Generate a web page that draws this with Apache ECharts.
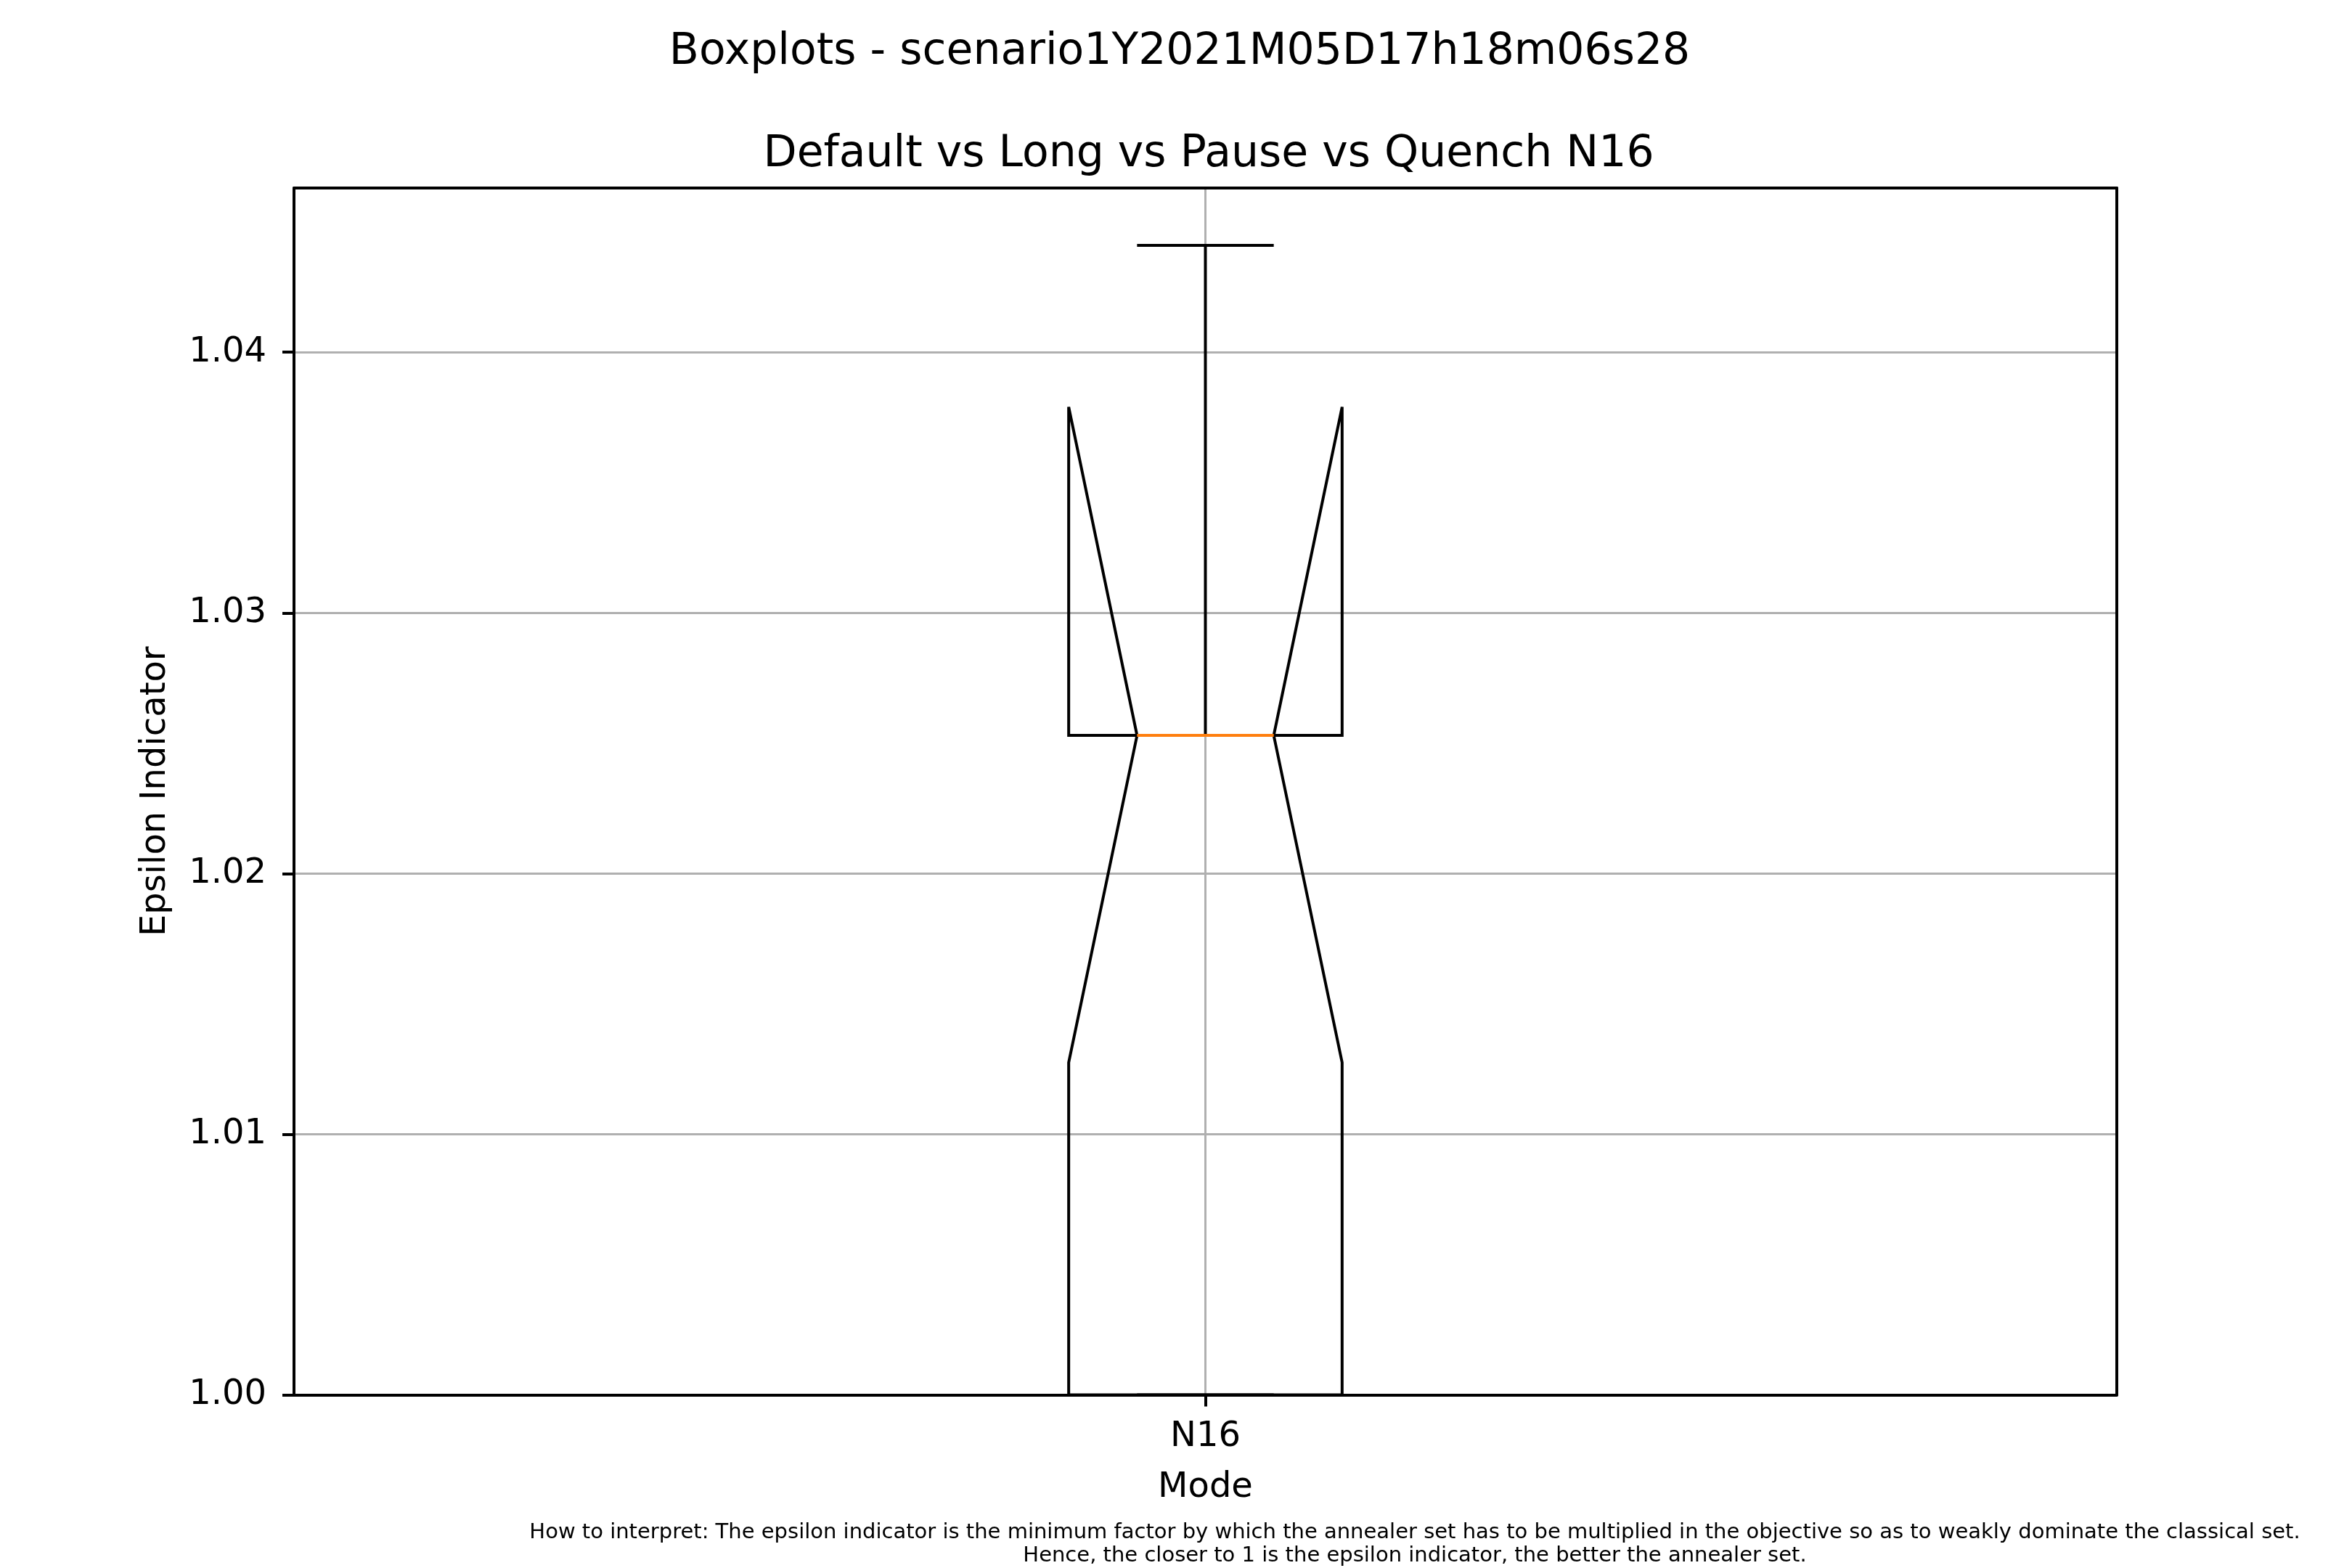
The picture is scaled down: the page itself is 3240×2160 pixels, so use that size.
<!DOCTYPE html>
<html>
<head>
<meta charset="utf-8">
<script src="https://cdn.jsdelivr.net/npm/echarts@6/dist/echarts.min.js"></script>
<style>
html,body{margin:0;padding:0;background:#fff;}
#chart{width:3240px;height:2160px;}
</style>
</head>
<body>
<div id="chart"></div>
<script>
// ---- data ----
const categories = ['N16'];
const whiskerLow  = [1.0];
const q1Values    = [1.0];
const medians     = [1.0253];
const q3Values    = [1.0253];
const whiskerHigh = [1.0441];
const notchLow    = [1.01275];
const notchHigh   = [1.0379];
const yTickValues = [1.00, 1.01, 1.02, 1.03, 1.04];

const mainTitle = 'Boxplots - scenario1Y2021M05D17h18m06s28';
const subTitle = 'Default vs Long vs Pause vs Quench N16';
const footnote = 'How to interpret: The epsilon indicator is the minimum factor by which the annealer set has to be multiplied in the objective so as to weakly dominate the classical set.\nHence, the closer to 1 is the epsilon indicator, the better the annealer set.';

const FONT = 'DejaVu Sans';
const boxHalf = 0.075;

const seriesData = categories.map((c, i) => [i + 1, whiskerLow[i], q1Values[i], medians[i], q3Values[i], whiskerHigh[i], notchLow[i], notchHigh[i]]);

const chart = echarts.init(document.getElementById('chart'), null, {renderer: 'canvas'});

const LW = 4;
const option = {
  animation: false,
  backgroundColor: '#ffffff',
  textStyle: {fontFamily: FONT, color: '#000'},
  title: [
    {text: mainTitle, left: 1620, top: 37, textAlign: 'center',
     textStyle: {fontFamily: FONT, fontSize: 60, fontWeight: 'normal', color: '#000'}},
    {text: subTitle, left: 1660, top: 178, textAlign: 'center',
     textStyle: {fontFamily: FONT, fontSize: 60, fontWeight: 'normal', color: '#000'}},
    {text: footnote, left: 1944, top: 2090, textAlign: 'center',
     textStyle: {fontFamily: FONT, fontSize: 29, lineHeight: 32, fontWeight: 'normal', color: '#000', align: 'center'}}
  ],
  grid: {left: 405, right: 324, top: 259, bottom: 238.5, containLabel: false},
  xAxis: [
    {
      type: 'value', min: 0.5, max: 1.5, interval: 0.5, position: 'bottom', z: 3,
      name: 'Mode', nameLocation: 'middle', nameGap: 104,
      nameTextStyle: {fontFamily: FONT, fontSize: 48, color: '#000'},
      axisLine: {show: true, onZero: false, lineStyle: {color: '#000', width: LW}},
      axisTick: {show: true, inside: false, length: 16, lineStyle: {color: '#000', width: LW}, customValues: categories.map((c, i) => i + 1)},
      axisLabel: {show: true, margin: 34, fontFamily: FONT, fontSize: 48, color: '#000',
        customValues: categories.map((c, i) => i + 1),
        formatter: v => { const i = Math.round(v) - 1; return (Math.abs(v - Math.round(v)) < 1e-9 && categories[i]) ? categories[i] : ''; }},
      splitLine: {show: true, lineStyle: {color: '#b0b0b0', width: 3}}
    },
    {
      type: 'value', min: 0.5, max: 1.5, position: 'top', z: 4,
      axisLine: {show: true, onZero: false, lineStyle: {color: '#000', width: LW}},
      axisTick: {show: false}, axisLabel: {show: false}, splitLine: {show: false}
    }
  ],
  yAxis: [
    {
      type: 'value', min: 1.0, max: 1.0463, interval: 0.01, position: 'left', z: 2,
      name: 'Epsilon Indicator', nameLocation: 'middle', nameGap: 166, nameRotate: 90,
      nameTextStyle: {fontFamily: FONT, fontSize: 48, color: '#000'},
      axisLine: {show: true, onZero: false, lineStyle: {color: '#000', width: LW}},
      axisTick: {show: true, inside: false, length: 16, lineStyle: {color: '#000', width: LW}},
      axisLabel: {show: true, margin: 38, fontFamily: FONT, fontSize: 48, color: '#000', showMaxLabel: false,
        formatter: v => yTickValues.some(t => Math.abs(t - v) < 1e-9) ? v.toFixed(2) : ''},
      splitLine: {show: true, lineStyle: {color: '#b0b0b0', width: 3}}
    },
    {
      type: 'value', min: 1.0, max: 1.0463, position: 'right', z: 4,
      axisLine: {show: true, onZero: false, lineStyle: {color: '#000', width: LW}},
      axisTick: {show: false}, axisLabel: {show: false}, splitLine: {show: false}
    }
  ],
  series: [{
    type: 'custom',
    z: 10,
    xAxisIndex: 0, yAxisIndex: 0,
    clip: false,
    data: seriesData,
    renderItem: function (params, api) {
      const x = api.value(0);
      const lo = api.value(1), q1 = api.value(2), med = api.value(3), q3 = api.value(4);
      const hi = api.value(5), nlo = api.value(6), nhi = api.value(7);
      const hw = boxHalf, iw = boxHalf / 2, cw = boxHalf / 2;
      const P = (dx, v) => api.coord([x + dx, v]);
      const black = {stroke: '#000', fill: null, lineWidth: LW, lineJoin: 'miter', miterLimit: 4};
      return {
        type: 'group',
        children: [
          {type: 'polygon', shape: {points: [P(-hw, q1), P(-hw, nlo), P(-iw, med), P(-hw, nhi), P(-hw, q3), P(hw, q3), P(hw, nhi), P(iw, med), P(hw, nlo), P(hw, q1)]}, style: black},
          {type: 'line', shape: {x1: P(0, q1)[0], y1: P(0, q1)[1], x2: P(0, lo)[0], y2: P(0, lo)[1]}, style: black},
          {type: 'line', shape: {x1: P(0, q3)[0], y1: P(0, q3)[1], x2: P(0, hi)[0], y2: P(0, hi)[1]}, style: black},
          {type: 'line', shape: {x1: P(-cw, lo)[0], y1: P(-cw, lo)[1], x2: P(cw, lo)[0], y2: P(cw, lo)[1]}, style: black},
          {type: 'line', shape: {x1: P(-cw, hi)[0], y1: P(-cw, hi)[1], x2: P(cw, hi)[0], y2: P(cw, hi)[1]}, style: black},
          {type: 'line', shape: {x1: P(-iw, med)[0], y1: P(-iw, med)[1], x2: P(iw, med)[0], y2: P(iw, med)[1]}, style: {stroke: '#ff7f0e', lineWidth: LW}}
        ]
      };
    }
  }]
};
chart.setOption(option);
</script>
</body>
</html>
